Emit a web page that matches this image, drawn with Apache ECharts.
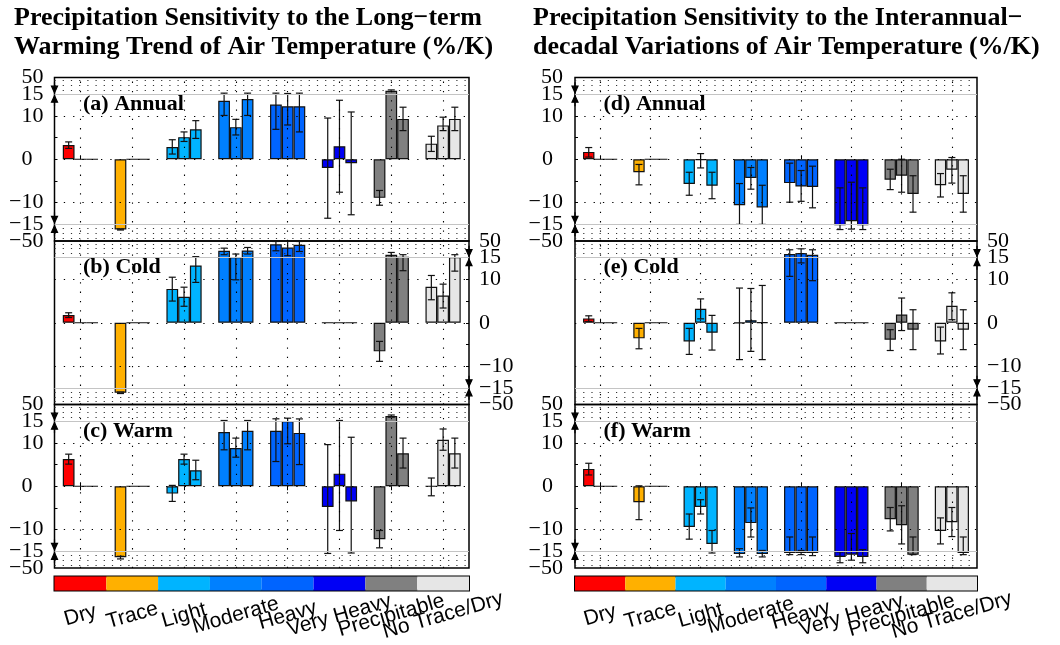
<!DOCTYPE html>
<html><head><meta charset="utf-8">
<script src="https://cdn.jsdelivr.net/npm/echarts@6/dist/echarts.min.js"></script>
<style>html,body{margin:0;padding:0;background:#fff}#c{width:1060px;height:645px}</style>
</head><body><div id="c"></div>
<script>
// ---------- data ----------
const categories = ['Dry','Trace','Light','Moderate','Heavy','Very Heavy','Precipitable','No Trace/Dry'];
const catColors = ['#ff0000','#ffb000','#00b4ff','#0080ff','#0064ff','#0000f5','#808080','#e6e6e6'];
const yTickValues = [-50,-15,-10,0,10,15,50];
const titleLeft = 'Precipitation Sensitivity to the Long\u2212term\nWarming Trend of Air Temperature (%/K)';
const titleRight = 'Precipitation Sensitivity to the Interannual\u2212\ndecadal Variations of Air Temperature (%/K)';
const panelLabels = ['(a) Annual','(b) Cold','(c) Warm','(d) Annual','(e) Cold','(f) Warm'];

// values per category: [bar1, bar2, bar3]; error bar low / high (null = none)
const aVal = [[3.3,0,0],[-26,0,0],[2.8,5.1,6.9],[13.5,7.4,13.9],[12.6,12.2,12.2],[-2.0,3.0,-0.9],[-8.9,22,9.3],[3.6,7.8,9.3]];
const aLo  = [[2.5,null,null],[-27,null,null],[1.2,4.1,4.8],[10.1,5.6,10.1],[6.9,7.9,6.3],[-13.6,-7.6,-12.8],[-10.6,20.5,6.6],[1.8,6.6,6.6]];
const aHi  = [[4.0,null,null],[-25,null,null],[4.5,6.3,8.9],[17.2,9.2,17.2],[17.2,16.5,17.2],[9.5,13.6,10.9],[-7.2,24,12.0],[5.3,9.7,12.0]];

const bVal = [[1.8,0,0],[-25.5,0,0],[7.8,6.0,13.2],[29.5,16.5,30.2],[43,36.4,42],[0,0,0],[-6.6,21.3,17.2],[8.3,6.3,16.5]];
const bLo  = [[1.2,null,null],[-27,null,null],[5.0,3.8,9.3],[21.3,9.9,22.7],[29.5,19.2,28],[null,null,null],[-8.9,15.8,12.0],[5.3,3.4,11.9]];
const bHi  = [[2.3,null,null],[-24,null,null],[10.5,8.2,17.2],[35,22.7,36.4],[49,50,49],[null,null,null],[-4.3,26,21.3],[10.9,8.9,21.3]];

const cVal = [[6.3,0,0],[-27.5,0,0],[-1.7,6.3,3.7],[12.5,8.8,12.8],[12.8,15.1,12.3],[-4.8,2.9,-3.5],[-12.2,26,7.6],[0,10.7,7.6]];
const cLo  = [[5.1,null,null],[-31,null,null],[-3.5,5.1,1.5],[8.4,6.7,8.4],[5.7,9.8,5.0],[-19.5,-10.2,-18.6],[-14.2,23.5,4.2],[-2.2,8.3,4.2]];
const cHi  = [[7.4,null,null],[-25.5,null,null],[0.2,7.4,6.0],[16.5,11.1,16.5],[20,21.3,19.8],[9.6,16.5,11.3],[-10.2,28,11.1],[1.9,13.2,11.1]];

const dVal = [[1.7,0,0],[-3.0,0,0],[-5.7,-0.2,-6.1],[-10.6,-4.3,-11.1],[-5.5,-6.3,-6.4],[-17.2,-14.3,-17.2],[-4.7,-3.8,-8.0],[-6.0,-2.4,-8.0]];
const dLo  = [[0.5,null,null],[-5.9,null,null],[-8.3,-2.0,-9.1],[-15.2,-6.9,-15.2],[-9.9,-9.7,-11.2],[-26,-25,-26],[-7.0,-7.6,-12.2],[-8.7,-5.5,-12.2]];
const dHi  = [[2.7,null,null],[-1.2,null,null],[-3.0,1.3,-3.0],[-5.6,-1.9,-6.0],[-0.9,-2.6,-1.6],[-6.6,-5.3,-6.6],[-2.3,0,-3.8],[-3.3,0.4,-3.8]];

const eVal = [[1.0,0,0],[-3.6,0,0],[-4.3,3.2,-2.3],[-0.1,0.6,0.1],[22.7,24.7,21.3],[0,0,0],[-3.9,1.9,-1.6],[-4.3,3.9,-1.6]];
const eLo  = [[0.3,null,null],[-6.0,null,null],[-7.3,0.9,-6.3],[-8.5,-6.6,-8.5],[10.7,13.8,9.7],[null,null,null],[-6.4,-1.8,-6.2],[-7.2,0.7,-6.2]];
const eHi  = [[1.6,null,null],[-1.3,null,null],[-1.3,5.5,1.7],[8.0,7.9,8.6],[31.6,33.6,31.6],[null,null,null],[-1.6,5.7,3.0],[-1.0,6.9,3.0]];

const fVal = [[4.0,0,0],[-3.7,0,0],[-9.4,-4.8,-13.3],[-20.6,-8.5,-20.6],[-18.6,-18.6,-18.6],[-26.8,-22,-26.8],[-7.6,-9.0,-22],[-10.3,-8.3,-18.6]];
const fLo  = [[2.6,null,null],[-7.7,null,null],[-12.2,-6.4,-18.6],[-26.8,-11.7,-26.8],[-22,-22,-24],[-39,-33.6,-39],[-10.3,-13.3,-22],[-13.3,-11.6,-22]];
const fHi  = [[5.3,null,null],[0.1,null,null],[-6.4,-3.1,-10.2],[-14.4,-5.0,-14.8],[-11.7,-14.8,-11.7],[-16.5,-10.9,-14.6],[-4.9,-4.5,-11.7],[-7.3,-4.9,-11.7]];

// ---------- broken axis transform (|v|<=15 linear, 15..50 compressed) ----------
const Y_C = 3.85;
const K = Y_C / 35;
const YMAX = 15 + Y_C;
function brk(v){ if (v == null) return null; const a = Math.abs(v); if (a <= 15) return v; return Math.sign(v) * (15 + (Math.min(a,50) - 15) * K); }
// tick labels split into groups that do not overlap (each group on its own axis)
const tickGroups = [
  yTickValues.filter(v => v === 0 || Math.abs(v) === 15),
  yTickValues.filter(v => Math.abs(v) === 10),
  yTickValues.filter(v => Math.abs(v) === 50)
];

// ---------- layout ----------
const COLS = [{left:54.5, width:414.5, lblGap:11, zeroPad:11}, {left:575, width:402, lblGap:12, zeroPad:10}];
const ROWS = [77.5, 241, 404.5];
const PH = 163.5;
const CB_TOP = 576.5, CB_H = 14;
const BAR_FRAC = 0.68;
const SERIF = '"Liberation Serif","Times New Roman",serif';
const SANS = '"Liberation Sans",Arial,sans-serif';

const panels = [
  {val:aVal, lo:aLo, hi:aHi, col:0, row:0, side:'left'},
  {val:bVal, lo:bLo, hi:bHi, col:0, row:1, side:'right'},
  {val:cVal, lo:cLo, hi:cHi, col:0, row:2, side:'left'},
  {val:dVal, lo:dLo, hi:dHi, col:1, row:0, side:'left'},
  {val:eVal, lo:eLo, hi:eHi, col:1, row:1, side:'right'},
  {val:fVal, lo:fLo, hi:fHi, col:1, row:2, side:'left'}
];

function fmtTick(v){
  let bi = 0, bd = 1e9;
  yTickValues.forEach((t,i)=>{ const d = Math.abs(brk(t) - v); if (d < bd){bd = d; bi = i;} });
  const t = yTickValues[bi];
  if (t === 0) return '{z|0}';
  return '{n|' + (t < 0 ? '\u2212' : '') + Math.abs(t) + '}';
}

function renderErr(params, api){
  const ci = api.value(0), k = api.value(1);
  const p1 = api.coord([ci, api.value(2)]);
  const p2 = api.coord([ci, api.value(3)]);
  const bw = api.size([1, 0])[0] * BAR_FRAC / 3;
  const x = p1[0] + (k - 1) * bw;
  const cap = 3.5;
  const st = {stroke:'#111', lineWidth:1.2};
  return {type:'group', children:[
    {type:'line', shape:{x1:x, y1:p1[1], x2:x, y2:p2[1]}, style:st},
    {type:'line', shape:{x1:x-cap, y1:p1[1], x2:x+cap, y2:p1[1]}, style:st},
    {type:'line', shape:{x1:x-cap, y1:p2[1], x2:x+cap, y2:p2[1]}, style:st}
  ]};
}

const option = {animation:false, backgroundColor:'#fff', grid:[], xAxis:[], yAxis:[], series:[], graphic:[]};
const dotted = {type:[1.3,8], color:'#000', width:1.1};
const dottedFine = {type:[1.2,7], color:'#333', width:1};
const panelYAxis = [];

function labelStyle(isLeft, c, values){
  return {show:true, customValues:values, formatter:fmtTick, align:isLeft?'right':'left', margin:isLeft?c.lblGap:10,
    showMinLabel:true, showMaxLabel:true, hideOverlap:false,
    color:'#000', fontFamily:SERIF, fontSize:22,
    rich:{n:{fontFamily:SERIF, fontSize:22, color:'#000'}, z:{fontFamily:SERIF, fontSize:22, color:'#000', padding: isLeft ? [0, c.zeroPad, 0, 0] : [0,0,0,0]}}};
}

panels.forEach((p, pi) => {
  const c = COLS[p.col];
  const top = ROWS[p.row];
  option.grid.push({left:c.left, top:top, width:c.width, height:PH, show:true, borderColor:'#000', borderWidth:1.5, backgroundColor:'rgba(0,0,0,0)'});
  const gi = option.grid.length - 1;
  option.xAxis.push({gridIndex:gi, type:'category', data:categories, position:'top',
    axisLine:{show:false}, axisTick:{show:true, alignWithLabel:true, length:4, lineStyle:{color:'#000'}},
    axisLabel:{show:false}, splitLine:{show:false}});
  const xi = option.xAxis.length - 1;
  if (p.row === 2) {
    option.xAxis.push({gridIndex:gi, type:'category', data:categories, position:'bottom',
      axisLine:{show:false}, axisTick:{show:true, alignWithLabel:true, length:4, lineStyle:{color:'#000'}},
      axisLabel:{show:false}, splitLine:{show:false}});
  }
  const isLeft = p.side === 'left';
  let yi = -1;
  tickGroups.forEach((grp, gk) => {
    option.yAxis.push({gridIndex:gi, type:'value', min:-YMAX, max:YMAX, position:p.side, offset:0,
      axisLine:{show:false}, splitLine:{show:false},
      axisTick: gk === 0 ? {show:true, inside:true, length:3, customValues:[-10,-5,0,5,10], lineStyle:{color:'#000'}} : {show:false},
      axisLabel:labelStyle(isLeft, c, grp.map(v => Math.abs(v) === 50 ? brk(v) * 0.9995 : brk(v)))
    });
    if (gk === 0) yi = option.yAxis.length - 1;
  });
  panelYAxis.push(yi);

  // grid lines
  const ml = [];
  [10, 0, -10].forEach(v => ml.push({yAxis:brk(v), lineStyle:dotted}));
  [23.5, 34, 44, -23.5, -34, -44].forEach(v => ml.push({yAxis:brk(v), lineStyle:dottedFine}));
  [15, -15].forEach(v => ml.push({yAxis:brk(v), lineStyle:{type:'solid', color:'#c4c4c4', width:1}}));
  categories.forEach(cat => ml.push({xAxis:cat, lineStyle:dotted}));
  option.series.push({type:'line', xAxisIndex:xi, yAxisIndex:yi, data:[], z:1, silent:true,
    markLine:{silent:true, symbol:['none','none'], label:{show:false}, animation:false, data:ml}});

  for (let k = 0; k < 3; k++) {
    option.series.push({type:'bar', xAxisIndex:xi, yAxisIndex:yi, z:2, barGap:'0%', barCategoryGap:((1-BAR_FRAC)*100)+'%',
      silent:true, emphasis:{disabled:true},
      itemStyle:{borderColor:'#111', borderWidth:1.2},
      data: categories.map((cat, i) => ({value: brk(p.val[i][k]), itemStyle:{color:catColors[i], borderColor:'#111', borderWidth:1.2}}))});
  }
  const errData = [];
  p.lo.forEach((tr, i) => tr.forEach((lo, k) => { if (lo != null) errData.push([i, k, brk(lo), brk(p.hi[i][k])]); }));
  option.series.push({type:'custom', xAxisIndex:xi, yAxisIndex:yi, z:3, silent:true, renderItem:renderErr,
    encode:{x:0, y:[2,3]}, data:errData});

  option.graphic.push({type:'text', left:c.left + 28.5, top:top + 15.5, z:10,
    style:{text:panelLabels[pi], font:'bold 22px ' + SERIF, fill:'#000'}});
});

// colour bars with category labels
COLS.forEach((c) => {
  option.grid.push({left:c.left, top:CB_TOP, width:c.width, height:CB_H, show:true, borderColor:'#000', borderWidth:2, backgroundColor:'rgba(0,0,0,0)'});
  const gi = option.grid.length - 1;
  option.xAxis.push({gridIndex:gi, type:'category', data:categories, position:'bottom',
    axisLine:{show:false}, axisTick:{show:false}, splitLine:{show:false},
    axisLabel:{show:true, interval:0, rotate:16, align:'center', verticalAlign:'middle', margin:25,
      fontFamily:SANS, fontSize:21, color:'#000'}});
  option.yAxis.push({gridIndex:gi, type:'value', min:0, max:1, show:false});
  option.series.push({type:'bar', xAxisIndex:option.xAxis.length-1, yAxisIndex:option.yAxis.length-1, barCategoryGap:'0%', silent:true,
    data: categories.map((cat, i) => ({value:1, itemStyle:{color:catColors[i]}}))});
});

option.graphic.push({type:'text', left:14, top:4, style:{text:titleLeft, font:'bold 26px ' + SERIF, lineHeight:29, fill:'#000'}});
option.graphic.push({type:'text', left:533, top:4, style:{text:titleRight, font:'bold 26px ' + SERIF, lineHeight:29, fill:'#000'}});

const chart = echarts.init(document.getElementById('c'), null, {renderer:'canvas'});
chart.setOption(option);

// axis-break arrows at +/-15 on the labelled axis of each panel
const extra = [];
panels.forEach((p, pi) => {
  const c = COLS[p.col];
  const x = p.side === 'left' ? c.left : c.left + c.width;
  [15, -15].forEach(v => {
    const y = chart.convertToPixel({yAxisIndex: panelYAxis[pi]}, brk(v));
    const st = {fill:'#000', stroke:'#000', lineWidth:1.2};
    extra.push({type:'line', shape:{x1:x, y1:y-12, x2:x, y2:y-5}, style:{stroke:'#000', lineWidth:1.2}, z:20});
    extra.push({type:'polygon', shape:{points:[[x-3,y-8],[x+3,y-8],[x,y-1.5]]}, style:st, z:20});
    extra.push({type:'line', shape:{x1:x, y1:y+12, x2:x, y2:y+5}, style:{stroke:'#000', lineWidth:1.2}, z:20});
    extra.push({type:'polygon', shape:{points:[[x-3,y+8],[x+3,y+8],[x,y+1.5]]}, style:st, z:20});
  });
});
chart.setOption({graphic: option.graphic.concat(extra)});
</script>
</body></html>
